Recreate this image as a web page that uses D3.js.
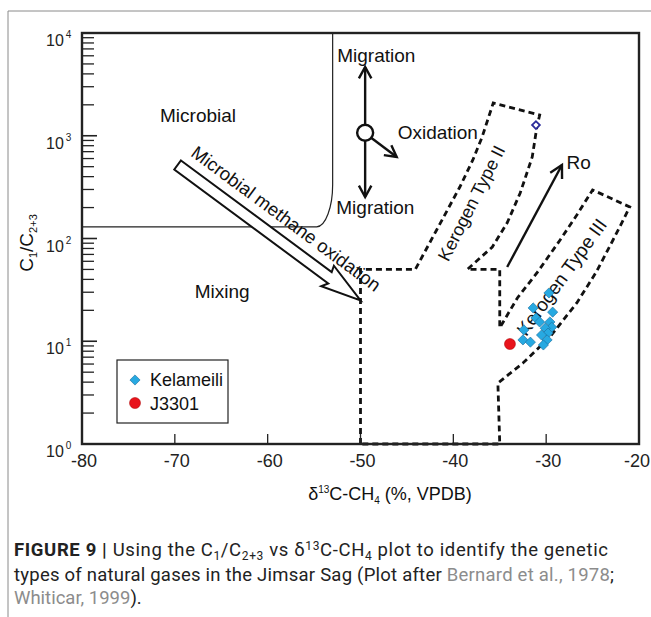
<!DOCTYPE html>
<html>
<head>
<meta charset="utf-8">
<script src="https://cdn.jsdelivr.net/npm/d3@7"></script>
<style>
body { margin: 0; background: #fff; }
svg { display: block; font-family: "Liberation Sans", Arial, sans-serif; }
</style>
</head>
<body>
<svg id="chart" width="651" height="617"></svg>
<script>
// values
var xTickVals = [-80, -70, -60, -50, -40, -30, -20];
var yExponents = [0, 1, 2, 3, 4];

var kelameiliX = [-29.7, -31.4, -29.3, -31.1, -30.7, -29.6, -29.4, -30.1, -32.4, -29.8, -30.5, -32.5, -31.7, -29.9, -30.3];
var kelameiliY = [29.5, 21.1, 19.2, 16.8, 15.4, 15.4, 13.7, 13.4, 12.9, 12.0, 11.5, 10.3, 9.8, 10.3, 9.2];
var j3301X = [-33.9];
var j3301Y = [9.4];
var hollowX = [-31.1];
var hollowY = [1270];

// microbial field: bottom at C1/C2+3 = 130, right edge at -53
var microbialEdge = [-53, 130];

// thermogenic field outline (dashed), [d13C, C1/C2+3]
var thermoOutline = [
  [-50, 1], [-50, 50], [-44.1, 50],
  [-41.8, 121], [-39.3, 317], [-37.9, 581], [-36.9, 972], [-36.3, 1423], [-35.7, 2084],
  [-30.7, 1592],
  [-31.0, 1217], [-31.5, 621], [-32.8, 277], [-34.2, 142], [-35.8, 82.7], [-38.5, 50],
  [-35, 50], [-35, 13.5],
  [-33.1, 26.4], [-31.0, 46.2], [-28.5, 96.7], [-26.7, 169], [-25.0, 297],
  [-21.0, 203],
  [-21.8, 145], [-22.8, 96.7], [-24.6, 47.2], [-26.7, 23.6], [-29.6, 11.0], [-32.5, 6.14], [-35.2, 3.92],
  [-35, 1], [-50, 1]
];

var migrationCentre = [-49.5, 1070];
var migrationUp = [-49.5, 4670];
var migrationDown = [-49.5, 253];
var oxidationEnd = [-46.1, 621];
var roStart = [-34.2, 52.8];
var roEnd = [-28.3, 519];
var oxArrowStart = [-69.7, 520];
var oxArrowEnd = [-50, 25];

var x = d3.scaleLinear().domain([-80, -20]).range([82, 639]);
var y = d3.scaleLog().domain([1, 10000]).range([444, 33]);

var svg = d3.select("#chart");

// outer figure frame
svg.append("path")
  .attr("d", "M8,617 V11 H651")
  .attr("fill", "none")
  .attr("stroke", "#8a8a8a")
  .attr("stroke-width", 1);

var plot = svg.append("g");

// microbial box
var bx = x(microbialEdge[0]), by = y(microbialEdge[1]);
plot.append("path")
  .attr("d", "M" + x(-80) + "," + by + " L" + (bx - 16) + "," + by +
    " C" + (bx - 7) + "," + by + " " + bx + "," + (by - 20) + " " + bx + "," + (by - 42) +
    " L" + bx + "," + y(10000))
  .attr("fill", "none")
  .attr("stroke", "#222")
  .attr("stroke-width", 1.2);

// dashed thermogenic outline
plot.append("path")
  .attr("d", d3.line().x(function(d){ return x(d[0]); }).y(function(d){ return y(d[1]); })(thermoOutline))
  .attr("fill", "none")
  .attr("stroke", "#111")
  .attr("stroke-width", 2.8)
  .attr("stroke-dasharray", "6,4");

// y ticks (inside)
yExponents.forEach(function(e){
  if (e < 4) {
    for (var m = 2; m <= 9; m++) {
      var v = m * Math.pow(10, e);
      plot.append("line")
        .attr("x1", x(-80)).attr("x2", x(-80) + 12)
        .attr("y1", y(v)).attr("y2", y(v))
        .attr("stroke", "#222").attr("stroke-width", 1.3);
    }
  }
  if (e > 0 && e < 4) {
    plot.append("line")
      .attr("x1", x(-80)).attr("x2", x(-80) + 15)
      .attr("y1", y(Math.pow(10, e))).attr("y2", y(Math.pow(10, e)))
      .attr("stroke", "#222").attr("stroke-width", 1.6);
  }
  var t = svg.append("text")
    .attr("x", 46)
    .attr("y", y(Math.pow(10, e)) + 13)
    .attr("font-size", 16)
    .attr("fill", "#222")
    .text("10");
  t.append("tspan").attr("dy", -8).attr("dx", 2).attr("font-size", 10).text(e);
});

// x ticks (inside)
xTickVals.forEach(function(v){
  if (v > -80 && v < -20) {
    plot.append("line")
      .attr("x1", x(v)).attr("x2", x(v))
      .attr("y1", y(1)).attr("y2", y(1) - 10)
      .attr("stroke", "#222").attr("stroke-width", 1.3);
  }
  svg.append("text")
    .attr("x", v == -20 ? 650 : x(v) + 2)
    .attr("y", 467)
    .attr("text-anchor", v == -20 ? "end" : "middle")
    .attr("font-size", 18)
    .attr("fill", "#222")
    .text(v);
});

// frame
plot.append("rect")
  .attr("x", x(-80)).attr("y", y(10000))
  .attr("width", x(-20) - x(-80)).attr("height", y(1) - y(10000))
  .attr("fill", "none")
  .attr("stroke", "#222")
  .attr("stroke-width", 2.4);

// open arrow helper
function arrow(p1, p2, len){
  var x1 = x(p1[0]), y1 = y(p1[1]), x2 = x(p2[0]), y2 = y(p2[1]);
  var a = Math.atan2(y2 - y1, x2 - x1);
  plot.append("line")
    .attr("x1", x1).attr("y1", y1).attr("x2", x2).attr("y2", y2)
    .attr("stroke", "#111").attr("stroke-width", 2.4);
  var pts = [[x2 - len * Math.cos(a - 0.5), y2 - len * Math.sin(a - 0.5)], [x2, y2],
             [x2 - len * Math.cos(a + 0.5), y2 - len * Math.sin(a + 0.5)]];
  plot.append("path")
    .attr("d", d3.line()(pts))
    .attr("fill", "none").attr("stroke", "#111").attr("stroke-width", 2.4)
    .attr("stroke-linejoin", "miter");
}

var cx = x(migrationCentre[0]), cy = y(migrationCentre[1]);
arrow([migrationCentre[0], y.invert(cy - 8)], migrationUp, 13);
arrow([migrationCentre[0], y.invert(cy + 8)], migrationDown, 13);
arrow([x.invert(cx + 6), y.invert(cy + 5)], oxidationEnd, 13);
plot.append("circle")
  .attr("cx", cx).attr("cy", cy).attr("r", 8)
  .attr("fill", "#fff").attr("stroke", "#111").attr("stroke-width", 2.4);

arrow(roStart, roEnd, 14);

// hollow arrow: microbial methane oxidation
(function(){
  var tx = x(oxArrowStart[0]), ty = y(oxArrowStart[1]);
  var hx = x(oxArrowEnd[0]), hy = y(oxArrowEnd[1]);
  var L = Math.hypot(hx - tx, hy - ty);
  var ux = (hx - tx) / L, uy = (hy - ty) / L;
  var nx = -uy, ny = ux;
  var local = [[0, -5.6], [L - 40, -5.6], [L - 42, -12], [L, 0], [L - 40, 12], [L - 36, 5.6], [0, 5.6]];
  var pts = local.map(function(p){ return [tx + ux * p[0] + nx * p[1], ty + uy * p[0] + ny * p[1]]; });
  plot.append("path")
    .attr("d", d3.line()(pts) + "Z")
    .attr("fill", "#fff").attr("stroke", "#111").attr("stroke-width", 2)
    .attr("stroke-linejoin", "miter");
  var ox = tx + ux * 4 - nx * 15, oy = ty + uy * 4 - ny * 15;
  var ang = Math.atan2(uy, ux) * 180 / Math.PI;
  plot.append("text")
    .attr("transform", "translate(" + ox + "," + oy + ") rotate(" + ang + ")")
    .attr("font-size", 18.5)
    .attr("fill", "#111")
    .text("Microbial methane oxidation");
})();

// labels
function label(txt, pos, anchor, size){
  plot.append("text")
    .attr("x", x(pos[0])).attr("y", y(pos[1]))
    .attr("text-anchor", anchor)
    .attr("font-size", size)
    .attr("fill", "#111")
    .text(txt);
}
label("Microbial", [-67.5, 1360], "middle", 19);
label("Mixing", [-64.9, 26.4], "middle", 19);
label("Migration", [-48.3, 5220], "middle", 19);
label("Migration", [-48.4, 173], "middle", 19);
label("Oxidation", [-46.0, 929], "start", 19);
label("Ro", [-27.8, 470], "start", 19);

plot.append("text")
  .attr("transform", "translate(" + 477 + "," + 206 + ") rotate(-63)")
  .attr("text-anchor", "middle")
  .attr("font-size", 18)
  .attr("fill", "#111")
  .text("Kerogen Type II");
plot.append("text")
  .attr("transform", "translate(" + 567 + "," + 281 + ") rotate(-54)")
  .attr("text-anchor", "middle")
  .attr("font-size", 19)
  .attr("fill", "#111")
  .text("Kerogen Type III");

// data points
var diamond = d3.symbol().type(d3.symbolSquare).size(52);
plot.selectAll(".kel")
  .data(kelameiliX)
  .enter().append("path")
  .attr("class", "kel")
  .attr("d", diamond)
  .attr("transform", function(d, i){ return "translate(" + x(d) + "," + y(kelameiliY[i]) + ") rotate(45)"; })
  .attr("fill", "#27a9e1")
  .attr("stroke", "#1b6f9e")
  .attr("stroke-width", 0.6);

plot.selectAll(".hol")
  .data(hollowX)
  .enter().append("path")
  .attr("class", "hol")
  .attr("d", d3.symbol().type(d3.symbolSquare).size(30))
  .attr("transform", function(d, i){ return "translate(" + x(d) + "," + y(hollowY[i]) + ") rotate(45)"; })
  .attr("fill", "#fff")
  .attr("stroke", "#2b2b9a")
  .attr("stroke-width", 1.8);

plot.selectAll(".j33")
  .data(j3301X)
  .enter().append("circle")
  .attr("class", "j33")
  .attr("cx", function(d){ return x(d); })
  .attr("cy", function(d, i){ return y(j3301Y[i]); })
  .attr("r", 5.5)
  .attr("fill", "#e8141c")
  .attr("stroke", "#a00").attr("stroke-width", 0.5);

// legend
var lg = svg.append("g").attr("transform", "translate(117,360)");
lg.append("rect").attr("width", 111).attr("height", 63)
  .attr("fill", "#fff").attr("stroke", "#222").attr("stroke-width", 1.2);
lg.append("path").attr("d", diamond).attr("transform", "translate(18,20) rotate(45)")
  .attr("fill", "#27a9e1").attr("stroke", "#1b6f9e").attr("stroke-width", 0.6);
lg.append("circle").attr("cx", 18).attr("cy", 43).attr("r", 5.5)
  .attr("fill", "#e8141c").attr("stroke", "#a00").attr("stroke-width", 0.5);
lg.append("text").attr("x", 33).attr("y", 26).attr("font-size", 18).attr("fill", "#111").text("Kelameili");
lg.append("text").attr("x", 33).attr("y", 50).attr("font-size", 18).attr("fill", "#111").text("J3301");

// axis titles
var xt = svg.append("text")
  .attr("x", 390).attr("y", 500)
  .attr("text-anchor", "middle")
  .attr("font-size", 18)
  .attr("fill", "#111");
xt.append("tspan").text("δ");
xt.append("tspan").attr("dy", -7).attr("font-size", 10).text("13");
xt.append("tspan").attr("dy", 7).text("C-CH");
xt.append("tspan").attr("dy", 4).attr("font-size", 10).text("4");
xt.append("tspan").attr("dy", -4).text(" (%, VPDB)");

var yt = svg.append("text")
  .attr("transform", "translate(33,243) rotate(-90)")
  .attr("text-anchor", "middle")
  .attr("font-size", 19)
  .attr("fill", "#111");
yt.append("tspan").text("C");
yt.append("tspan").attr("dy", 4).attr("font-size", 11).text("1");
yt.append("tspan").attr("dy", -4).text("/C");
yt.append("tspan").attr("dy", 4).attr("font-size", 11).text("2+3");

// caption
var cap = svg.append("g").attr("font-family", "Roboto, 'Liberation Sans', sans-serif").attr("font-size", 18.5).attr("fill", "#222");
var l1 = cap.append("text").attr("x", 14).attr("y", 556);
l1.append("tspan").attr("font-weight", "bold").text("FIGURE 9 | ");
l1.append("tspan").text("Using the C");
l1.append("tspan").attr("dy", 4).attr("font-size", "0.65em").text("1");
l1.append("tspan").attr("dy", -4).text("/C");
l1.append("tspan").attr("dy", 4).attr("font-size", "0.65em").text("2+3");
l1.append("tspan").attr("dy", -4).text(" vs δ");
l1.append("tspan").attr("dy", -6).attr("font-size", "0.65em").text("13");
l1.append("tspan").attr("dy", 6).text("C-CH");
l1.append("tspan").attr("dy", 4).attr("font-size", "0.65em").text("4");
l1.append("tspan").attr("dy", -4).text(" plot to identify the genetic");
var l2 = cap.append("text").attr("x", 14).attr("y", 581);
l2.append("tspan").text("types of natural gases in the Jimsar Sag (Plot after ");
l2.append("tspan").attr("fill", "#8c8c8c").text("Bernard et al., 1978");
l2.append("tspan").text(";");
var l3 = cap.append("text").attr("x", 14).attr("y", 604);
l3.append("tspan").attr("fill", "#8c8c8c").text("Whiticar, 1999");
l3.append("tspan").text(").");

// caption line widths as in the figure
l1.attr("textLength", 594).attr("lengthAdjust", "spacing");
l2.attr("textLength", 600).attr("lengthAdjust", "spacing");
</script>
</body>
</html>
